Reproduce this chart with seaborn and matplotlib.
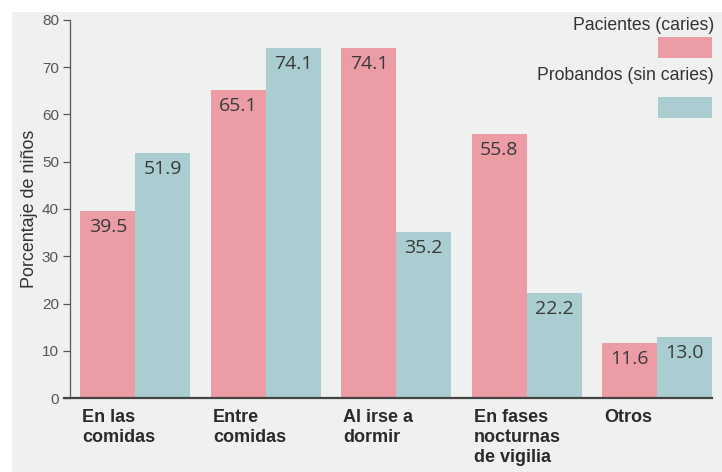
import numpy as np
import pandas as pd
import matplotlib
matplotlib.use("Agg")
import matplotlib.pyplot as plt
from matplotlib.patches import Rectangle
import seaborn as sns

# Momento de consumo de azúcar
categorias = ["En las\ncomidas", "Entre\ncomidas", "Al irse a\ndormir",
              "En fases\nnocturnas\nde vigilia", "Otros"]
grupos = ["Pacientes (caries)", "Probandos (sin caries)"]
pacientes = [39.5, 65.1, 74.1, 55.8, 11.6]
probandos = [51.9, 74.1, 35.2, 22.2, 13.0]
yticks = [0, 10, 20, 30, 40, 50, 60, 70, 80]

ROSA = "#ec9ca4"
VERDE = "#a9cdd0"
FONDO = "#eef1f0"
TEXTO = "#3a3a3a"

df = pd.DataFrame({
    "momento": categorias * 2,
    "grupo": [grupos[0]] * len(categorias) + [grupos[1]] * len(categorias),
    "porcentaje": pacientes + probandos,
})

sns.set_theme(style="white")
plt.rcParams["font.family"] = ["Liberation Sans", "DejaVu Sans"]

W, H = 722, 472
fig = plt.figure(figsize=(W / 100, H / 100), dpi=100, facecolor="white")
fig.patches.append(Rectangle((12 / W, 0), 1, (H - 12) / H, transform=fig.transFigure,
                             facecolor=FONDO, edgecolor="none", zorder=-10))

ax = fig.add_axes([70 / W, (H - 398) / H, (712 - 70) / W, (398 - 20) / H])
ax.set_facecolor("none")

sns.barplot(data=df, x="momento", y="porcentaje", hue="grupo", order=categorias,
            hue_order=grupos, palette=[ROSA, VERDE], width=0.84, saturation=1,
            linewidth=0, edgecolor="none", legend=False, ax=ax)

# Etiquetas de valor dentro de cada barra, junto al borde superior
for cont in ax.containers:
    anns = ax.bar_label(cont, fmt="%.1f", padding=-5, fontsize=14,
                        color=TEXTO, family=["Open Sans", "DejaVu Sans"])
    for a in anns:
        a.set_verticalalignment("top")

ax.set_xlim(-0.5, 4.42)
ax.set_ylim(0, 80)
ax.set_yticks(yticks)
ax.set_yticklabels([str(t) for t in yticks], fontsize=11, color="#555555")
ax.tick_params(axis="y", direction="out", length=5, width=0.9, color="#555555",
               left=True, pad=3)

ax.set_xticks(np.arange(len(categorias)) - 0.405)
ax.set_xticklabels(categorias, ha="left", va="top", fontsize=13,
                   fontweight="bold", color="#2a2a2a")
for lbl in ax.get_xticklabels():
    lbl.set_linespacing(1.22)
ax.tick_params(axis="x", length=0, pad=8)

ax.set_xlabel("")
ax.set_ylabel("Porcentaje de niños", fontsize=12.9, color="#333333")
ax.yaxis.set_label_coords(-0.05, 0.5)

for s in ["top", "right"]:
    ax.spines[s].set_visible(False)
ax.spines["left"].set_color("#555555")
ax.spines["left"].set_linewidth(0.9)
ax.spines["bottom"].set_color("#444444")
ax.spines["bottom"].set_linewidth(1.6)
ax.spines["bottom"].set_bounds(-0.546, 4.42)

# Leyenda: texto alineado a la derecha con su muestra de color debajo
for texto, color, y_txt, y_box in [(grupos[0], ROSA, 25, 37), (grupos[1], VERDE, 75, 97)]:
    fig.text(714 / W, 1 - y_txt / H, texto, ha="right", va="center",
             fontsize=12.7, color="#333333")
    fig.patches.append(Rectangle((658 / W, 1 - (y_box + 21) / H), 54 / W, 21 / H,
                                 transform=fig.transFigure, facecolor=color,
                                 edgecolor="none"))

fig.savefig("out.png", dpi=100)
